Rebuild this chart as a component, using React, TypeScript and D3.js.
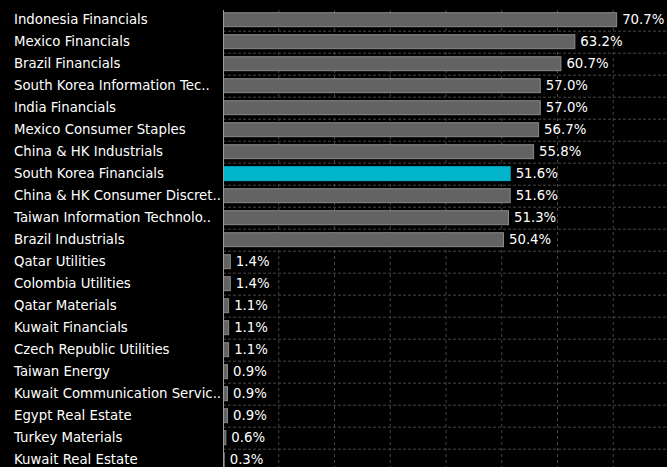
import { useEffect, useRef } from 'react';
import * as d3 from 'd3';

const categories = [
  'Indonesia Financials',
  'Mexico Financials',
  'Brazil Financials',
  'South Korea Information Tec..',
  'India Financials',
  'Mexico Consumer Staples',
  'China & HK Industrials',
  'South Korea Financials',
  'China & HK Consumer Discret..',
  'Taiwan Information Technolo..',
  'Brazil Industrials',
  'Qatar Utilities',
  'Colombia Utilities',
  'Qatar Materials',
  'Kuwait Financials',
  'Czech Republic Utilities',
  'Taiwan Energy',
  'Kuwait Communication Servic..',
  'Egypt Real Estate',
  'Turkey Materials',
  'Kuwait Real Estate',
];

const values = [70.7, 63.2, 60.7, 57.0, 57.0, 56.7, 55.8, 51.6, 51.6, 51.3, 50.4, 1.4, 1.4, 1.1, 1.1, 1.1, 0.9, 0.9, 0.9, 0.6, 0.3];

const highlighted = ['South Korea Financials'];

const xTicks = [0, 10, 20, 30, 40, 50, 60, 70, 80];

export default function App() {
  const ref = useRef<SVGSVGElement>(null);

  useEffect(() => {
    if (!ref.current) return;
    const svg = d3.select(ref.current);
    svg.selectAll('*').remove();

    const width = 667;
    const height = 467;
    const left = 223;
    const top = 8.7;
    const rowH = 22;

    const x = d3.scaleLinear().domain([0, 10]).range([left, left + 55.75]);
    const y = d3.scaleBand<string>()
      .domain(categories)
      .range([top, top + rowH * categories.length])
      .paddingInner(0.32)
      .paddingOuter(0.16);

    svg.append('rect').attr('width', width).attr('height', height).attr('fill', '#000');

    // vertical grid
    svg.append('g')
      .selectAll('line')
      .data(xTicks.slice(1))
      .enter()
      .append('line')
      .attr('x1', d => x(d))
      .attr('x2', d => x(d))
      .attr('y1', 10)
      .attr('y2', height)
      .attr('stroke', '#444')
      .attr('stroke-dasharray', '3,3');

    // horizontal grid between rows
    svg.append('g')
      .selectAll('line')
      .data(categories.slice(1))
      .enter()
      .append('line')
      .attr('x1', left)
      .attr('x2', width)
      .attr('y1', (d, i) => top + rowH * (i + 1) + 0.5)
      .attr('y2', (d, i) => top + rowH * (i + 1) + 0.5)
      .attr('stroke', '#444')
      .attr('stroke-dasharray', '3,2');

    // bars
    svg.append('g')
      .selectAll('rect')
      .data(categories)
      .enter()
      .append('rect')
      .attr('x', left + 0.5)
      .attr('y', d => (y(d) as number) + 0.5)
      .attr('width', (d, i) => Math.max(x(values[i]) - left - 1, 0.5))
      .attr('height', y.bandwidth() - 1)
      .attr('fill', d => highlighted.includes(d) ? '#00b4cc' : '#636363')
      .attr('stroke', d => highlighted.includes(d) ? '#00b4cc' : '#8a8a8a')
      .attr('stroke-width', 1);

    // axis line
    svg.append('line')
      .attr('x1', left + 0.5)
      .attr('x2', left + 0.5)
      .attr('y1', 10)
      .attr('y2', height)
      .attr('stroke', '#9a9a9a');

    // value labels
    svg.append('g')
      .selectAll('text')
      .data(categories)
      .enter()
      .append('text')
      .attr('x', (d, i) => x(values[i]) + 5)
      .attr('y', d => (y(d) as number) + y.bandwidth() / 2)
      .attr('dy', '0.36em')
      .attr('fill', '#fff')
      .attr('font-family', 'DejaVu Sans')
      .attr('font-size', 13.3)
      .text((d, i) => `${values[i].toFixed(1)}%`);

    // category labels
    svg.append('g')
      .selectAll('text')
      .data(categories)
      .enter()
      .append('text')
      .attr('x', 14)
      .attr('y', d => (y(d) as number) + y.bandwidth() / 2)
      .attr('dy', '0.36em')
      .attr('fill', '#fff')
      .attr('font-family', 'DejaVu Sans')
      .attr('font-size', 13.3)
      .text(d => d);
  }, []);

  return (
    <svg ref={ref} width={667} height={467} style={{ position: 'fixed', left: 0, top: 0, display: 'block' }} />
  );
}
